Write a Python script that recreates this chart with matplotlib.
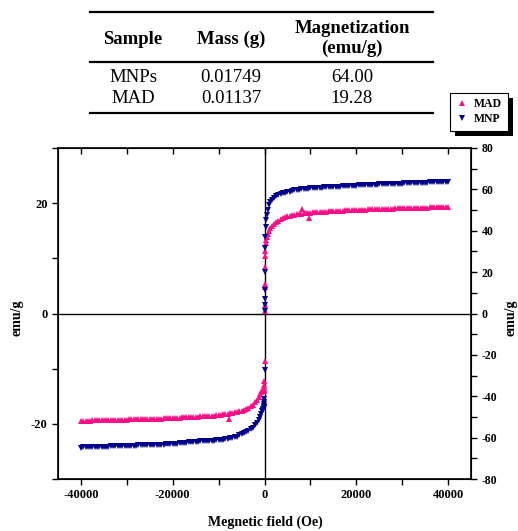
import matplotlib
matplotlib.use("Agg")
import matplotlib.pyplot as plt
from matplotlib.lines import Line2D
from matplotlib.patches import Rectangle

plt.rcParams['font.family'] = ['Liberation Serif', 'DejaVu Serif']
plt.rcParams['axes.unicode_minus'] = False

# table values
tbl_header = ["Sample", "Mass (g)", "Magnetization", "(emu/g)"]
tbl_samples = ["MNPs", "MAD"]
tbl_mass = ["0.01749", "0.01137"]
tbl_mag = ["64.00", "19.28"]

# hysteresis data (emu/g)
field_pos = [0, 10, 30, 60, 100, 150, 200, 300, 400, 500, 700, 1000, 1300, 1600,
             2000, 2500, 3000, 3500,
             4000, 4500, 5000, 5500, 6000, 6500, 7000, 7500, 8000, 8500, 9000, 9500,
             10000, 10500, 11000, 11500, 12000, 12500, 13000, 13500, 14000, 14500,
             15000, 15500, 16000, 16500, 17000, 17500, 18000, 18500, 19000, 19500,
             20000, 20500, 21000, 21500, 22000, 22500, 23000, 23500, 24000, 24500,
             25000, 25500, 26000, 26500, 27000, 27500, 28000, 28500, 29000, 29500,
             30000, 30500, 31000, 31500, 32000, 32500, 33000, 33500, 34000, 34500,
             35000, 35500, 36000, 36500, 37000, 37500, 38000, 38500, 39000, 39500,
             40000]
field_neg = [0, -10, -30, -60, -100, -150, -200, -300, -400, -500, -700, -1000, -1300, -1600,
             -2000, -2500, -3000, -3500,
             -4000, -4500, -5000, -5500, -6000, -6500, -7000, -7500, -8000, -8500, -9000, -9500,
             -10000, -10500, -11000, -11500, -12000, -12500, -13000, -13500, -14000, -14500,
             -15000, -15500, -16000, -16500, -17000, -17500, -18000, -18500, -19000, -19500,
             -20000, -20500, -21000, -21500, -22000, -22500, -23000, -23500, -24000, -24500,
             -25000, -25500, -26000, -26500, -27000, -27500, -28000, -28500, -29000, -29500,
             -30000, -30500, -31000, -31500, -32000, -32500, -33000, -33500, -34000, -34500,
             -35000, -35500, -36000, -36500, -37000, -37500, -38000, -38500, -39000, -39500,
             -40000]

mnp_pos = [0.5, 1.5, 2.7, 4.2, 7.5, 11.8, 13.8, 15.6, 17.0, 17.8, 18.8, 19.6, 20.2, 20.6,
           21.0, 21.3, 21.5, 21.7,
           21.8, 21.9, 22.0, 22.1, 22.2, 22.3, 22.35, 22.4, 22.5, 22.55, 22.6, 22.65,
           22.7, 22.72, 22.75, 22.78, 22.8, 22.82, 22.85, 22.88, 22.9, 22.92,
           22.95, 22.98, 23.0, 23.02, 23.05, 23.08, 23.1, 23.12, 23.15, 23.18,
           23.2, 23.22, 23.25, 23.27, 23.3, 23.3, 23.32, 23.34, 23.36, 23.38,
           23.4, 23.4, 23.42, 23.44, 23.46, 23.48, 23.5, 23.5, 23.52, 23.54,
           23.55, 23.57, 23.6, 23.6, 23.62, 23.64, 23.66, 23.68, 23.7, 23.7,
           23.72, 23.74, 23.76, 23.78, 23.8, 23.8, 23.82, 23.84, 23.86, 23.88,
           23.9]
mnp_neg = [-10.3, -15.5, -16.1, -16.4, -16.7, -17.0, -17.2, -17.4, -17.5, -17.6, -18.2, -18.8, -19.3, -19.8,
           -20.3, -20.7, -21.0, -21.3,
           -21.5, -21.7, -21.9, -22.1, -22.3, -22.4, -22.5, -22.6, -22.7, -22.78, -22.85, -22.92,
           -23.0, -23.02, -23.05, -23.08, -23.1, -23.12, -23.15, -23.18, -23.2, -23.22,
           -23.25, -23.28, -23.3, -23.35, -23.4, -23.45, -23.5, -23.55, -23.6, -23.65,
           -23.7, -23.71, -23.72, -23.74, -23.75, -23.76, -23.78, -23.79, -23.8, -23.82,
           -23.83, -23.85, -23.86, -23.88, -23.9, -23.92, -23.93, -23.95, -23.96, -23.98,
           -24.0, -24.02, -24.03, -24.05, -24.06, -24.08, -24.09, -24.1, -24.12, -24.14,
           -24.15, -24.16, -24.18, -24.2, -24.21, -24.22, -24.24, -24.26, -24.27, -24.28,
           -24.3]
mad_pos = [0.5, 1.5, 4.8, 5.4, 8.4, 10.5, 11.4, 12.7, 13.3, 13.8, 14.5, 15.0, 15.5, 15.9,
           16.2, 16.5, 16.8, 17.1,
           17.3, 17.45, 17.6, 17.7, 17.8, 17.9, 18.0, 18.05, 18.1, 18.15, 18.2, 18.25,
           18.3, 18.32, 18.35, 18.38, 18.4, 18.42, 18.45, 18.48, 18.5, 18.52,
           18.55, 18.58, 18.6, 18.62, 18.65, 18.68, 18.7, 18.72, 18.75, 18.78,
           18.8, 18.81, 18.82, 18.84, 18.85, 18.86, 18.88, 18.89, 18.9, 18.92,
           18.93, 18.95, 18.96, 18.98, 19.0, 19.01, 19.02, 19.04, 19.05, 19.06,
           19.08, 19.09, 19.1, 19.11, 19.12, 19.14, 19.15, 19.16, 19.18, 19.19,
           19.2, 19.21, 19.22, 19.24, 19.25, 19.26, 19.27, 19.28, 19.29, 19.3,
           19.3]
mad_neg = [-8.7, -12.3, -13.0, -13.4, -13.7, -13.9, -14.0, -14.05, -14.1, -14.1, -14.3, -14.6, -15.1, -15.6,
           -16.1, -16.5, -16.8, -17.1,
           -17.3, -17.45, -17.6, -17.7, -17.8, -17.9, -18.0, -18.08, -18.15, -18.22, -18.3, -18.38,
           -18.45, -18.48, -18.5, -18.52, -18.55, -18.58, -18.6, -18.62, -18.65, -18.68,
           -18.7, -18.72, -18.75, -18.78, -18.8, -18.82, -18.85, -18.88, -18.9, -18.92,
           -18.95, -18.98, -19.0, -19.01, -19.02, -19.04, -19.05, -19.06, -19.08, -19.09,
           -19.1, -19.11, -19.12, -19.14, -19.15, -19.16, -19.18, -19.19, -19.2, -19.21,
           -19.22, -19.24, -19.25, -19.26, -19.27, -19.28, -19.3, -19.31, -19.32, -19.33,
           -19.34, -19.35, -19.36, -19.37, -19.38, -19.39, -19.4, -19.41, -19.42, -19.44,
           -19.45]
mad_out_field = [8200, 9600, -7800]
mad_out_val = [19.0, 17.4, -19.1]

PINK = '#ff0f87'
NAVY = '#00008b'

W, H = 518, 531
def fx(x):
    return x / W
def fy(y):
    return 1 - y / H

fig = plt.figure(figsize=(5.18, 5.31), dpi=100)
ax = fig.add_axes([fx(58), fy(479), fx(471) - fx(58), fy(148) - fy(479)])

mk = dict(linestyle='none', markersize=5, markeredgewidth=0)
ax.plot(field_pos, mad_pos, marker='^', color=PINK, **mk)
ax.plot(field_neg, mad_neg, marker='^', color=PINK, **mk)
ax.plot(mad_out_field, mad_out_val, marker='^', color=PINK, **mk)
ax.plot(field_pos, mnp_pos, marker='v', color=NAVY, **mk)
ax.plot(field_neg, mnp_neg, marker='v', color=NAVY, **mk)

ax.axhline(0, color='black', lw=1.0, zorder=0)
ax.axvline(0, color='black', lw=1.0, zorder=0)

ax.set_xlim(-45000, 45000)
ax.set_ylim(-30, 30)
ax.set_xticks([-40000, -20000, 0, 20000, 40000])
ax.set_xticks([-30000, -10000, 10000, 30000], minor=True)
ax.set_yticks([-20, 0, 20])
ax.set_yticks([-30, -10, 10, 30], minor=True)
ax.tick_params(which='both', direction='out', width=1.0, length=4, labelsize=9)
ax.tick_params(axis='x', which='both', top=True, labeltop=False)
ax.tick_params(axis='y', which='both', right=False)
for lab in ax.get_xticklabels() + ax.get_yticklabels():
    lab.set_fontweight('bold')
for sp in ax.spines.values():
    sp.set_linewidth(1.2)

ax2 = ax.twinx()
ax2.set_ylim(-80, 80)
ax2.set_yticks(range(-80, 81, 20))
ax2.set_yticks(range(-70, 80, 20), minor=True)
ax2.tick_params(which='both', direction='out', width=1.0, length=4, labelsize=8.5)
for lab in ax2.get_yticklabels():
    lab.set_fontweight('bold')

# top ticks point inward
for t in ax.xaxis.get_major_ticks() + ax.xaxis.get_minor_ticks():
    t.tick2line.set_marker(3)

fig.text(fx(17), fy(318), 'emu/g', rotation=90, ha='center', va='center', fontweight='bold', fontsize=10)
fig.text(fx(511), fy(318), 'emu/g', rotation=90, ha='center', va='center', fontweight='bold', fontsize=10)
fig.text(fx(265), fy(522), 'Megnetic field (Oe)', ha='center', va='center', fontweight='bold', fontsize=10)

# legend with solid black drop shadow
handles = [Line2D([], [], marker='^', color=PINK, linestyle='none', markersize=4, markeredgewidth=0),
           Line2D([], [], marker='v', color=NAVY, linestyle='none', markersize=4, markeredgewidth=0)]
leg = fig.legend(handles, ['MAD', 'MNP'], loc='upper left', bbox_to_anchor=(fx(450), fy(93)),
                 frameon=True, fancybox=False, framealpha=1, facecolor='white', handlelength=1.2,
                 handletextpad=0.4, borderpad=0.45, labelspacing=0.25, borderaxespad=0,
                 prop={'weight': 'bold', 'size': 8.5})
leg.get_frame().set_edgecolor('black')
leg.get_frame().set_linewidth(0.8)
fig.canvas.draw()
bb = leg.get_window_extent().transformed(fig.transFigure.inverted())
fig.add_artist(Rectangle((bb.x0 + fx(5), bb.y0 - 5 / H), bb.width, bb.height,
                         transform=fig.transFigure, facecolor='black', edgecolor='none', zorder=0))

# table
for yy in [12, 62, 113]:
    fig.add_artist(Line2D([fx(90), fx(433)], [fy(yy), fy(yy)], color='black', lw=1.6))
cols = [133, 231, 352]
fig.text(fx(cols[0]), fy(44), tbl_header[0], ha='center', va='baseline', fontsize=13.5, fontweight='bold')
fig.text(fx(cols[1]), fy(44), tbl_header[1], ha='center', va='baseline', fontsize=13.5, fontweight='bold')
fig.text(fx(cols[2]), fy(33), tbl_header[2], ha='center', va='baseline', fontsize=13.5, fontweight='bold')
fig.text(fx(cols[2]), fy(53), tbl_header[3], ha='center', va='baseline', fontsize=13.5, fontweight='bold')
for i, yy in enumerate([82, 103]):
    fig.text(fx(cols[0]), fy(yy), tbl_samples[i], ha='center', va='baseline', fontsize=13.5)
    fig.text(fx(cols[1]), fy(yy), tbl_mass[i], ha='center', va='baseline', fontsize=13.5)
    fig.text(fx(cols[2]), fy(yy), tbl_mag[i], ha='center', va='baseline', fontsize=13.5)

fig.savefig('out.png', dpi=100)
